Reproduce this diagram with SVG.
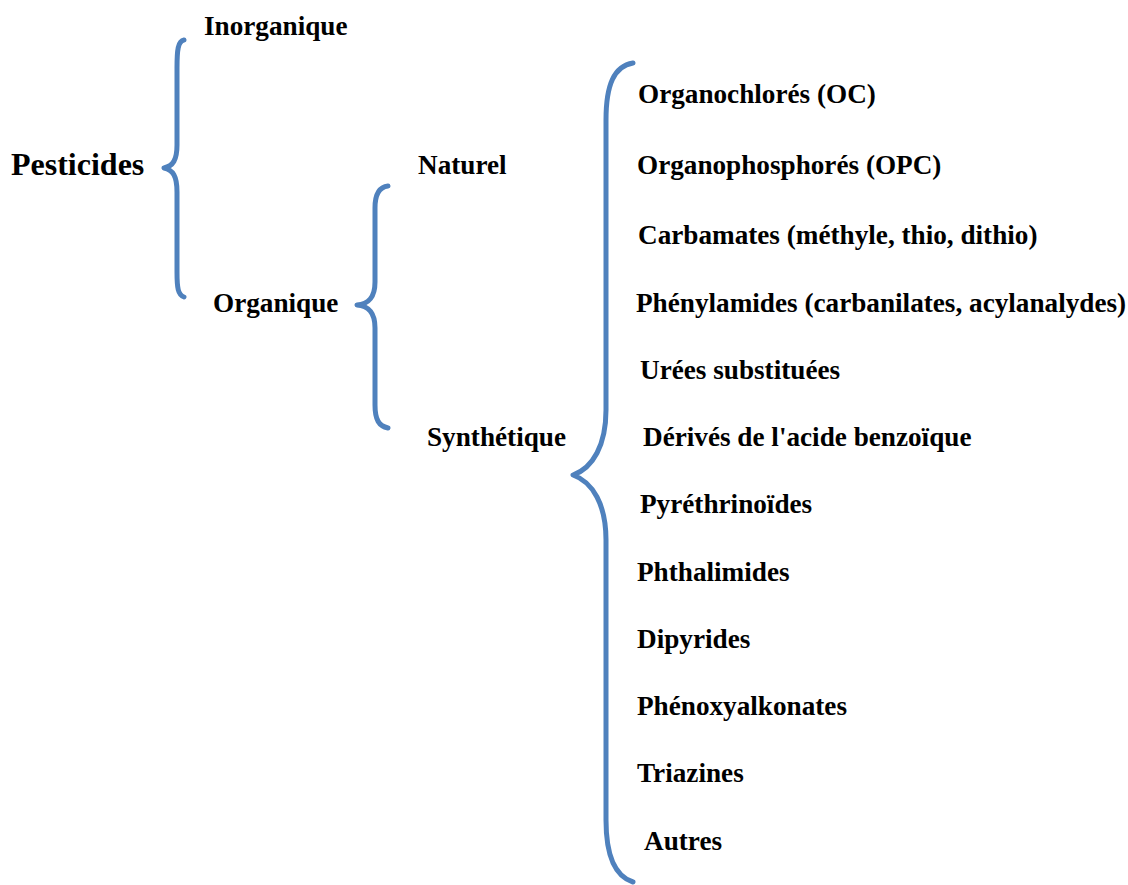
<svg xmlns="http://www.w3.org/2000/svg" width="1128" height="885" viewBox="0 0 1128 885">
<style>
.b{fill:none;stroke:#4f81bd;stroke-width:5;stroke-linecap:round;stroke-linejoin:round}
text{font-family:"Liberation Serif","Times New Roman",serif;font-weight:bold;font-size:27.2px;fill:#000}
.big{font-size:32px}
</style>
<rect width="1128" height="885" fill="#fff"/>
<g id="connectors">
<path class="b" d="M184,40 C178,41 177,50 177,68 L177,145 C177,160 173,166 164,168 C173,170 177,176 177,192 L177,272 C177,288 178,295 184,297"/>
<path class="b" d="M388,186 C379,187 375,194 375,208 L375,282 C375,298 368,304 357,305 C368,306 375,312 375,328 L375,405 C375,420 379,426 388,428"/>
<path class="b" d="M633,63 C614,66 606,85 606,120 L606,410 C606,445 593,468 573,475 C593,482 606,505 606,540 L606,820 C606,855 614,876 633,882"/>
</g>
<g id="pesticides"><text class="big" x="11" y="175">Pesticides</text></g>
<g id="inorganique"><text x="204" y="35">Inorganique</text></g>
<g id="organique"><text x="213" y="312">Organique</text></g>
<g id="naturel"><text x="418" y="174">Naturel</text></g>
<g id="synthetique"><text x="427" y="446">Synthétique</text></g>
<g id="oc"><text x="638" y="103">Organochlorés (OC)</text></g>
<g id="opc"><text x="637" y="174">Organophosphorés (OPC)</text></g>
<g id="carbamates"><text x="638" y="244">Carbamates (méthyle, thio, dithio)</text></g>
<g id="phenylamides"><text x="636" y="312">Phénylamides (carbanilates, acylanalydes)</text></g>
<g id="urees"><text x="640" y="379">Urées substituées</text></g>
<g id="derives"><text x="643" y="446">Dérivés de l'acide benzoïque</text></g>
<g id="pyrethrinoides"><text x="640" y="513">Pyréthrinoïdes</text></g>
<g id="phthalimides"><text x="637" y="581">Phthalimides</text></g>
<g id="dipyrides"><text x="637" y="648">Dipyrides</text></g>
<g id="phenoxy"><text x="637" y="715">Phénoxyalkonates</text></g>
<g id="triazines"><text x="637" y="782">Triazines</text></g>
<g id="autres"><text x="644" y="850">Autres</text></g>
</svg>
